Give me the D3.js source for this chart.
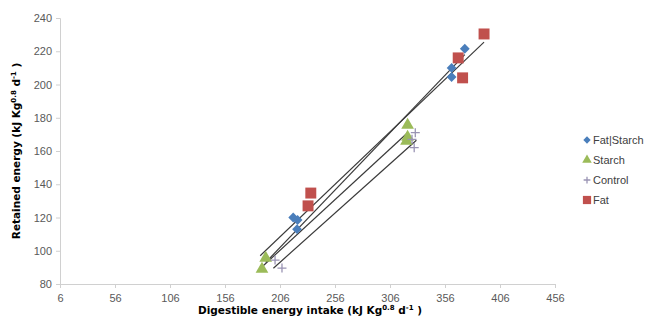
<!DOCTYPE html>
<html>
<head>
<meta charset="utf-8">
<script src="https://cdn.jsdelivr.net/npm/d3@7"></script>
<style>
  body { margin: 0; background: #fff; }
  svg { font-family: "Liberation Sans", Arial, sans-serif; }
</style>
</head>
<body>
<div id="chart"></div>
<script>
// Retained vs digestible energy, one series per diet, each with a linear trend line
const xTicks = [6, 56, 106, 156, 206, 256, 306, 356, 406, 456];
const yTicks = [80, 100, 120, 140, 160, 180, 200, 220, 240];

const seriesNames = ['Fat|Starch', 'Starch', 'Control', 'Fat'];

const fatStarch = [[218, 120], [222, 118.5], [221.5, 113], [374, 221.5], [362, 210], [362, 204.5]];
const starch = [[193, 95.6], [189.6, 89], [322, 175.6], [322, 168.4], [321, 166]];
const control = [[201.5, 94.4], [207.8, 89.6], [329, 171], [326, 167], [328, 162]];
const fat = [[234, 134.7], [231.5, 127], [368, 216], [372, 204], [391.5, 230.4]];

// trend lines, [x, y] at both ends
const trendFatStarch = [[193, 93], [374, 218]];
const trendStarch = [[190, 90.5], [322, 171]];
const trendControl = [[200, 89.5], [330, 166.5]];
const trendFat = [[188, 97], [391.5, 225.5]];

const W = 650, H = 320;
const M = { top: 18, right: 95, bottom: 36, left: 60 };
const iW = W - M.left - M.right;
const iH = H - M.top - M.bottom;

const svg = d3.select('#chart').append('svg')
    .attr('width', W).attr('height', H);

const g = svg.append('g').attr('transform', `translate(${M.left},${M.top})`);

const x = d3.scaleLinear().domain([6, 456]).range([0, iW]);
const y = d3.scaleLinear().domain([80, 240]).range([iH, 0]);

// Axes
const xAxis = g.append('g').attr('transform', `translate(0,${iH})`)
    .call(d3.axisBottom(x).tickValues(xTicks).tickSize(4).tickPadding(6).tickFormat(d3.format('d')));
const yAxis = g.append('g')
    .call(d3.axisLeft(y).tickValues(yTicks).tickSize(4).tickPadding(4).tickFormat(d3.format('d')));
[xAxis, yAxis].forEach(a => {
    a.selectAll('path, line').attr('stroke', '#d0d0d0');
    a.selectAll('text').attr('fill', '#595959').attr('font-size', 11);
});

// Trend lines
const line = d3.line().x(d => x(d[0])).y(d => y(d[1]));
[trendFat, trendFatStarch, trendStarch, trendControl].forEach(t => {
    g.append('path').attr('d', line(t))
        .attr('fill', 'none').attr('stroke', '#3a3a3a').attr('stroke-width', 1.2);
});

// Markers
const data = { 'Fat|Starch': fatStarch, 'Starch': starch, 'Control': control, 'Fat': fat };
const colors = { 'Fat|Starch': '#4a7ebb', 'Starch': '#9bbb59', 'Control': '#9a94b4', 'Fat': '#c0504d' };

function marker(sel, name, k) {
    if (name === 'Control') {
        sel.append('path').attr('d', `M${-4.5 * k},0H${4.5 * k}M0,${-4.5 * k}V${4.5 * k}`)
            .attr('stroke', colors[name]).attr('stroke-width', 1.3);
    } else if (name === 'Fat|Starch') {
        sel.append('path').attr('d', d3.symbol().type(d3.symbolSquare).size(48 * k * k)())
            .attr('transform', 'rotate(45)').attr('fill', colors[name]);
    } else if (name === 'Starch') {
        sel.append('path').attr('d', d3.symbol().type(d3.symbolTriangle).size(70 * k * k)())
            .attr('fill', colors[name]);
    } else {
        sel.append('path').attr('d', d3.symbol().type(d3.symbolSquare).size(120 * k * k)())
            .attr('fill', colors[name]);
    }
}

['Starch', 'Control', 'Fat|Starch', 'Fat'].forEach(name => {
    const sel = g.append('g').selectAll('g').data(data[name]).enter().append('g')
        .attr('transform', d => `translate(${x(d[0])},${y(d[1])})`);
    marker(sel, name, 1);
});

// Legend
const legend = svg.append('g').attr('transform', 'translate(587,140)');
seriesNames.forEach((name, i) => {
    const row = legend.append('g').attr('transform', `translate(0,${i * 20})`);
    marker(row, name, 0.75);
    row.append('text').attr('x', 6).attr('y', 4)
        .attr('font-size', 11).attr('fill', '#404040').text(name);
});

// Axis titles
function titleWithSups(sel) {
    sel.append('tspan').text('(kJ Kg');
    sel.append('tspan').attr('font-size', 7).attr('dy', -4).text('0.8');
    sel.append('tspan').attr('dy', 4).text(' d');
    sel.append('tspan').attr('font-size', 7).attr('dy', -4).text('-1');
    sel.append('tspan').attr('dy', 4).text(' )');
}
const titleFont = '"DejaVu Sans", Verdana, sans-serif';
const xt = svg.append('text').attr('x', 310).attr('y', 314)
    .attr('text-anchor', 'middle').attr('font-family', titleFont)
    .attr('font-size', 10.5).attr('font-weight', 'bold').attr('fill', '#000');
xt.append('tspan').text('Digestible energy intake ');
titleWithSups(xt);

const yt = svg.append('text').attr('transform', `translate(20,${M.top + iH / 2}) rotate(-90)`)
    .attr('text-anchor', 'middle').attr('font-family', titleFont)
    .attr('font-size', 10.5).attr('font-weight', 'bold').attr('fill', '#000');
yt.append('tspan').text('Retained energy ');
titleWithSups(yt);
</script>
</body>
</html>
